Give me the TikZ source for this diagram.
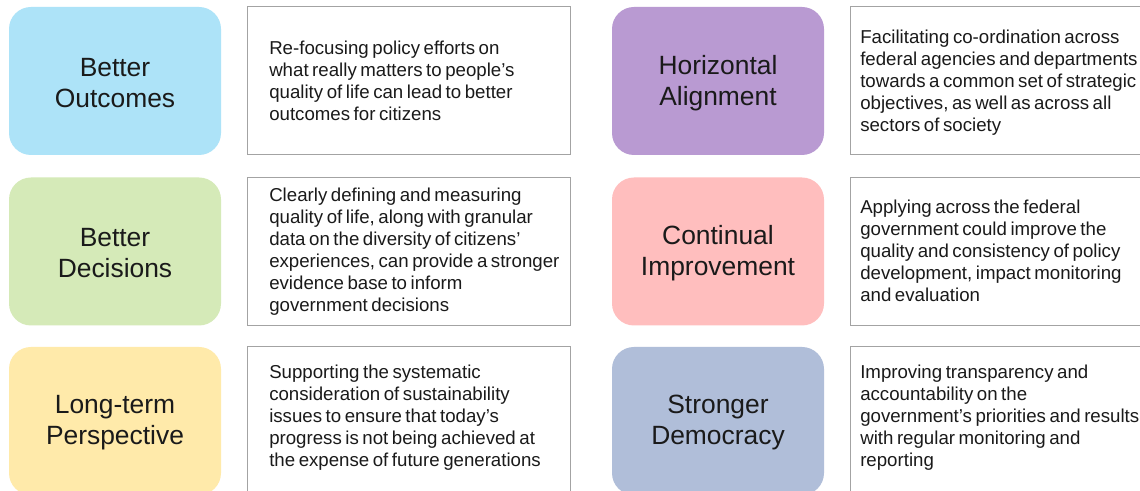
\documentclass[tikz,border=0pt]{standalone}
\usepackage{fontspec}
\setmainfont{Liberation Sans}
\definecolor{cblue}{HTML}{ADE3F8}
\definecolor{cgreen}{HTML}{D5EAB8}
\definecolor{cyellow}{HTML}{FFEAAA}
\definecolor{cpurple}{HTML}{B99AD2}
\definecolor{cpink}{HTML}{FFBEBE}
\definecolor{cslate}{HTML}{B0BED9}
\definecolor{boxgray}{HTML}{A3A3A3}
\definecolor{txt}{HTML}{1A1A1A}
\newcommand\mydescfont{\fontsize{14}{16.5}\selectfont\setlength{\spaceskip}{2.66pt}}
\tikzset{
  tile/.style={draw=none, rounded corners=16.5pt, minimum width=159pt, minimum height=111pt, inner sep=0pt},
  title/.style={inner sep=0pt, align=center, text=txt, font=\fontsize{19.8}{23.25}\selectfont},
  descbox/.style={draw=boxgray, line width=0.75pt, fill=white, minimum height=111pt, inner sep=0pt},
  desc/.style={anchor=west, align=left, inner sep=0pt, text=txt, font=\mydescfont}
}
\begin{document}
\begin{tikzpicture}[x=0.75pt,y=-0.75pt]
\useasboundingbox (0,0) rectangle (1140,491);
\clip (0,0) rectangle (1140,491);
\fill[white] (0,0) rectangle (1140,491);
% left column tiles
\node[tile, fill=cblue]   (t1) at (115,81)    {};
\node[tile, fill=cgreen]  (t2) at (115,251.5) {};
\node[tile, fill=cyellow] (t3) at (115,421)   {};
% right column tiles
\node[tile, fill=cpurple] (t4) at (718,81)    {};
\node[tile, fill=cpink]   (t5) at (718,251.5) {};
\node[tile, fill=cslate]  (t6) at (718,421)   {};
% titles
\node[title] (n1) at (115,83)    {Better\\Outcomes};
\node[title] (n2) at (115,253.5) {Better\\Decisions};
\node[title] (n3) at (115,423)   {Long-term\\Perspective};
\node[title] (n4) at (718,83)    {Horizontal\\Alignment};
\node[title] (n5) at (718,253.5) {Continual\\Improvement};
\node[title] (n6) at (718,423)   {Stronger\\Democracy};
% description boxes
\node[descbox, minimum width=242.25pt] (b1) at (409,81) {};
\node[descbox, minimum width=242.25pt] (b2) at (409,251.5) {};
\node[descbox, minimum width=242.25pt] (b3) at (409,421) {};
\node[descbox, minimum width=243.75pt] (b4) at (1012.5,81) {};
\node[descbox, minimum width=243.75pt] (b5) at (1012.5,251.5) {};
\node[descbox, minimum width=243.75pt] (b6) at (1012.5,421) {};
% description texts
\node[desc] (d1) at (269,81) {Re-focusing policy efforts on\\what really matters to people’s\\quality of life can lead to better\\outcomes for citizens};
\node[desc] (d2) at (269,251.5) {Clearly defining and measuring\\quality of life, along with granular\\data on the diversity of citizens’\\experiences, can provide a stronger\\evidence base to inform\\government decisions};
\node[desc] (d3) at (269,418) {Supporting the systematic\\consideration of sustainability\\issues to ensure that today’s\\progress is not being achieved at\\the expense of future generations};
\node[desc] (d4) at (860,83) {Facilitating co-ordination across\\federal agencies and departments\\towards a common set of strategic\\objectives, as well as across all\\sectors of society};
\node[desc] (d5) at (860,251) {Applying across the federal\\government could improve the\\quality and consistency of policy\\development, impact monitoring\\and evaluation};
\node[desc] (d6) at (860,418) {Improving transparency and\\accountability on the\\government’s priorities and results\\with regular monitoring and\\reporting};
\end{tikzpicture}
\end{document}
